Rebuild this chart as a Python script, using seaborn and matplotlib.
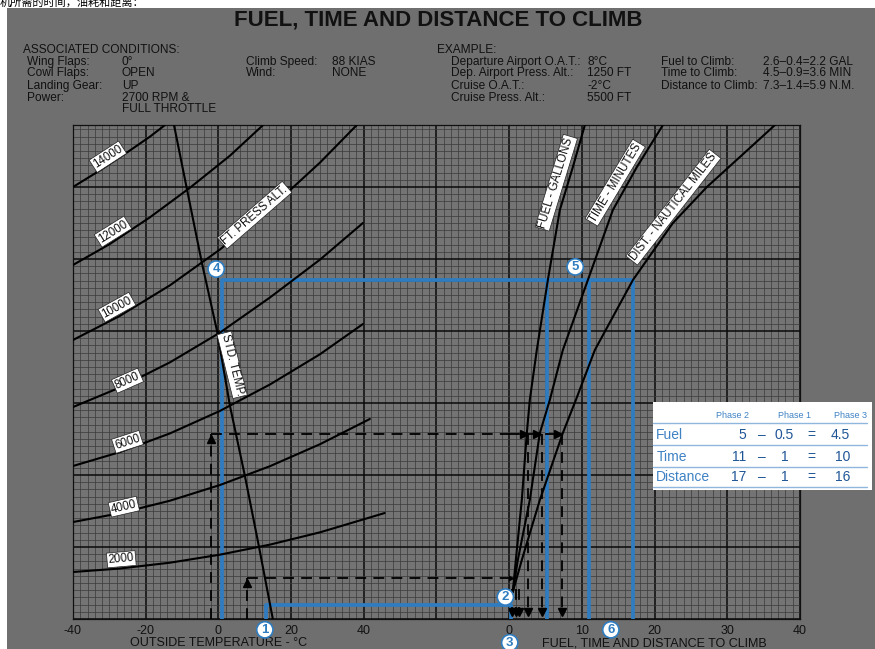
import numpy as np
import pandas as pd
import matplotlib
matplotlib.use("Agg")
import matplotlib.pyplot as plt
from matplotlib.patches import Rectangle
import seaborn as sns

# ---------------- data ----------------
# Left panel: pressure-altitude curves. x = outside air temperature (deg C), y = chart height (grid units)
pa2000_t = [-40, -27.1, -13.3, 0.4, 14.2, 28.0, 45.8]
pa2000_h = [6.53, 7.01, 7.82, 8.93, 10.33, 12.04, 14.72]
pa4000_t = [-40, -27.1, -13.3, 0.4, 14.2, 28.0, 41.7]
pa4000_h = [13.47, 14.69, 16.43, 18.60, 21.22, 24.28, 27.78]
pa6000_t = [-40, -27.1, -13.3, 0.4, 14.2, 28.0, 39.8]
pa6000_h = [21.25, 23.18, 25.78, 28.89, 32.57, 36.78, 40.97]
pa8000_t = [-40, -27.1, -13.3, 0.4, 14.2, 28.0, 39.8]
pa8000_h = [29.44, 32.15, 35.65, 39.76, 44.65, 49.92, 55.0]
pa10000_t = [-40, -27.1, -13.3, 0.4, 14.2, 28.0, 38.1]
pa10000_h = [38.75, 42.1, 46.35, 51.3, 57.0, 63.4, 68.6]
pa12000_t = [-40, -29.8, -18.8, -7.8, 3.2, 12.3]
pa12000_h = [49.17, 52.1, 55.8, 59.9, 64.35, 68.6]
pa14000_t = [-40, -32.6, -25.7, -18.8, -14.7]
pa14000_h = [60.0, 62.3, 64.6, 67.0, 68.6]
std_temp_t = [-12.2, -8.6, -4.5, -0.4, 3.2, 7.3, 11.2, 15.0]
std_temp_h = [68.6, 59.6, 49.4, 40.1, 29.6, 19.9, 10.0, 0.0]
alt_names = ["2000", "4000", "6000", "8000", "10000", "12000", "14000"]

# Right panel: fuel (gal), time (min), distance (n.m.) vs chart height
fuel_v = [0.52, 0.94, 1.76, 2.45, 2.86, 3.82, 5.34, 6.99, 8.78, 10.43]
fuel_h = [3.75, 8.19, 16.53, 25.83, 30.42, 37.36, 47.08, 56.81, 62.78, 68.61]
time_v = [0.52, 1.21, 2.86, 4.24, 5.61, 7.40, 10.84, 14.28, 17.58, 21.16]
time_h = [3.75, 8.19, 16.53, 25.83, 30.42, 37.36, 47.08, 56.81, 62.78, 68.61]
dist_v = [0.52, 1.76, 4.24, 7.40, 9.19, 11.80, 17.03, 22.53, 27.2, 31.74, 36.56]
dist_h = [3.75, 8.19, 16.53, 25.83, 30.42, 37.36, 47.08, 55.0, 60.0, 64.17, 68.61]

left_ticks = [-40, -20, 0, 20, 40, 60, 80]
left_tick_labels = ["-40", "-20", "0", "20", "40", "", ""]
right_ticks = [0, 10, 20, 30, 40]
right_tick_labels = ["0", "10", "20", "30", "40"]

# Blue worked example (phases)
ph1_temp, ph1_h, ph1_v = 13, 1.95, 0.3
ph2_temp, ph2_h = 1, 47.1
ph2_vals = [5.2, 11, 17]
# Dashed black example
dep_temp, dep_h = 8, 5.65
dep_vals = [0.4, 0.9, 1.4]
cru_temp, cru_h = -2, 25.7
cru_vals = [2.6, 4.5, 7.3]

# Table
tbl_cols = ["Phase 2", "Phase 1", "Phase 3"]
tbl_rows = ["Fuel", "Time", "Distance"]
tbl_p2 = ["5", "11", "17"]
tbl_p1 = ["0.5", "1", "1"]
tbl_p3 = ["4.5", "10", "16"]

# ---------------- style ----------------
sns.set_style("white")
plt.rcParams["font.family"] = ["Liberation Sans", "DejaVu Sans"]
GRAY = "#6f6f6f"
BLUE = "#2f7dc0"
INK = "#111111"

W, H = 875, 649
def fx(px):
    return px / W
def fy(py):
    return 1 - py / H

fig = plt.figure(figsize=(W / 100, H / 100), dpi=100, facecolor="white")
fig.add_artist(Rectangle((fx(7), 0), 1 - fx(7), fy(8), transform=fig.transFigure,
                         facecolor=GRAY, edgecolor="none", zorder=-10))

ax_l = fig.add_axes([fx(73), fy(619), (509 - 73) / W, 494 / H])
ax_r = fig.add_axes([fx(509), fy(619), (800 - 509) / W, 494 / H])
YMAX = 494 / 7.2

for ax, xl, xmaj, xmin in [(ax_l, (-40, 80), 20, 2), (ax_r, (0, 40), 10, 1)]:
    ax.set_facecolor("#747474")
    ax.set_xlim(*xl)
    ax.set_ylim(0, YMAX)
    ax.set_xticks(np.arange(xl[0], xl[1] + 0.1, xmin), minor=True)
    ax.set_yticks(np.arange(0, YMAX, 1), minor=True)
    ax.set_yticks(np.arange(0, YMAX, 10))
    ax.grid(which="minor", color="#3a3a3a", lw=0.5)
    ax.grid(which="major", color="#0a0a0a", lw=1.1)
    ax.set_axisbelow(True)
    ax.tick_params(axis="both", which="both", length=0)
    ax.tick_params(axis="x", labelsize=9, pad=4, colors=INK)
    ax.tick_params(axis="y", labelleft=False)
    for s in ax.spines.values():
        s.set_color("#111111")
        s.set_linewidth(0.9)
ax_l.spines["right"].set_visible(False)
ax_r.spines["left"].set_visible(False)
ax_l.set_xticks(left_ticks)
ax_l.set_xticklabels(left_tick_labels)
ax_r.set_xticks(right_ticks)
ax_r.set_xticklabels(right_tick_labels)

# ---------------- curves ----------------
alt_t = [pa2000_t, pa4000_t, pa6000_t, pa8000_t, pa10000_t, pa12000_t, pa14000_t]
alt_h = [pa2000_h, pa4000_h, pa6000_h, pa8000_h, pa10000_h, pa12000_h, pa14000_h]
df_left = pd.concat(
    [pd.DataFrame({"temp": t, "height": h, "curve": n}) for t, h, n in zip(alt_t, alt_h, alt_names)]
    + [pd.DataFrame({"temp": std_temp_t, "height": std_temp_h, "curve": "std"})],
    ignore_index=True)
sns.lineplot(data=df_left, x="temp", y="height", units="curve", estimator=None, sort=False,
             color="black", linewidth=1.5, ax=ax_l, zorder=4)

df_right = pd.concat([
    pd.DataFrame({"value": fuel_v, "height": fuel_h, "curve": "fuel"}),
    pd.DataFrame({"value": time_v, "height": time_h, "curve": "time"}),
    pd.DataFrame({"value": dist_v, "height": dist_h, "curve": "dist"}),
], ignore_index=True)
sns.lineplot(data=df_right, x="value", y="height", units="curve", estimator=None, sort=False,
             color="black", linewidth=1.5, ax=ax_r, zorder=4)
for ax in (ax_l, ax_r):
    ax.set_xlabel("")
    ax.set_ylabel("")

# ---------------- blue worked example ----------------
bkw = dict(color=BLUE, lw=2.7, zorder=3, solid_capstyle="butt")
ax_l.plot([ph1_temp, ph1_temp, 80], [0, ph1_h, ph1_h], **bkw)
ax_r.plot([0, ph1_v, ph1_v], [ph1_h, ph1_h, 0], **bkw)
ax_l.plot([ph2_temp, ph2_temp, 80], [0, ph2_h, ph2_h], **bkw)
ax_r.plot([0, ph2_vals[-1]], [ph2_h, ph2_h], **bkw)
for v in ph2_vals:
    ax_r.plot([v, v], [ph2_h, 0], **bkw)

# ---------------- dashed black example ----------------
dkw = dict(color="black", lw=1.3, ls=(0, (6, 4)), zorder=5)
mkw = dict(color="black", ms=5.5, ls="none", zorder=6)
ax_l.plot([dep_temp, dep_temp], [0, dep_h], **dkw)
ax_l.plot([dep_temp], [dep_h - 0.7], marker="^", **mkw)
ax_l.plot([dep_temp, 80], [dep_h, dep_h], **dkw)
ax_r.plot([0, ph1_v], [dep_h, dep_h], **dkw)
ax_r.plot([0.05], [dep_h], marker=">", **mkw)
for v in dep_vals:
    ax_r.plot([v, v], [4.2, 0.9], **dkw)
    ax_r.plot([v], [1.0], marker="v", **mkw)

ax_l.plot([cru_temp, cru_temp], [0, cru_h], **dkw)
ax_l.plot([cru_temp], [cru_h - 0.7], marker="^", **mkw)
ax_l.plot([cru_temp, 80], [cru_h, cru_h], **dkw)
ax_r.plot([0, cru_vals[-1]], [cru_h, cru_h], **dkw)
for v in cru_vals:
    ax_r.plot([v - 0.6], [cru_h], marker=">", **mkw)
    ax_r.plot([v, v], [cru_h, 0.9], **dkw)
    ax_r.plot([v], [1.0], marker="v", **mkw)

# ---------------- curve labels ----------------
box = dict(boxstyle="square,pad=0.12", fc="white", ec="#222222", lw=0.5)
lab_fs = 8.3
alt_lab_pos = [(-26.7, 8.3, 5), (-26.0, 15.6, 13), (-25.0, 24.6, 18), (-25.0, 33.1, 24),
               (-27.9, 43.3, 29), (-29.0, 53.8, 32), (-30.4, 64.2, 33)]
for name, (t, h, r) in zip(alt_names, alt_lab_pos):
    ax_l.text(t, h, name, rotation=r, rotation_mode="anchor", ha="center", va="center",
              fontsize=lab_fs, color=INK, bbox=box, zorder=7)
ax_l.text(10.0, 56.1, "FT. PRESS ALT.", rotation=41, rotation_mode="anchor", ha="center",
          va="center", fontsize=lab_fs, color=INK, bbox=box, zorder=7)
ax_l.text(3.8, 35.3, "STD. TEMP.", rotation=-76, rotation_mode="anchor", ha="center",
          va="center", fontsize=lab_fs, color=INK, bbox=box, zorder=7)
ax_r.text(6.5, 60.6, "FUEL - GALLONS", rotation=73, rotation_mode="anchor", ha="center",
          va="center", fontsize=lab_fs, color=INK, bbox=box, zorder=7)
ax_r.text(14.6, 60.6, "TIME - MINUTES", rotation=59, rotation_mode="anchor", ha="center",
          va="center", fontsize=lab_fs, color=INK, bbox=box, zorder=7)
ax_r.text(22.6, 57.2, "DIST. - NAUTICAL MILES", rotation=52, rotation_mode="anchor", ha="center",
          va="center", fontsize=lab_fs, color=INK, bbox=box, zorder=7)

# ---------------- numbered circles ----------------
cbox = dict(boxstyle="circle,pad=0.16", fc="white", ec=BLUE, lw=1.2)
circles = [(ax_l, 12.8, -1.5, "1"), (ax_r, -0.5, 3.05, "2"), (ax_r, 0.1, -3.3, "3"),
           (ax_l, -0.6, 48.6, "4"), (ax_r, 9.1, 48.9, "5"), (ax_r, 14.0, -1.5, "6")]
for ax, x, y, s in circles:
    ax.text(x, y, s, ha="center", va="center", fontsize=9.5, fontweight="bold", color=BLUE,
            bbox=cbox, zorder=9, clip_on=False)

# ---------------- axis titles ----------------
ax_l.text(0, -24 / 7.2, "OUTSIDE TEMPERATURE - °C", ha="center", va="center", fontsize=9,
          color=INK, clip_on=False)
ax_r.text(20, -24 / 7.2, "FUEL, TIME AND DISTANCE TO CLIMB", ha="center", va="center",
          fontsize=9, color=INK, clip_on=False)

# ---------------- header texts ----------------
fig.text(0.0, fy(2), "机所需的时间，油耗和距离：", fontsize=8, color="black", va="center",
         family=["Noto Sans CJK SC", "DejaVu Sans"])
fig.text(fx(438), fy(20), "FUEL, TIME AND DISTANCE TO CLIMB", ha="center", va="center",
         fontsize=16, fontweight="bold", color=INK)

tkw = dict(fontsize=8.6, color=INK, va="center", ha="left")
rows_y = [50, 62, 73, 86, 98, 109]
fig.text(fx(23), fy(rows_y[0]), "ASSOCIATED CONDITIONS:", **tkw)
for lab, val, y in zip(["Wing Flaps:", "Cowl Flaps:", "Landing Gear:", "Power:", ""],
                       ["0°", "OPEN", "UP", "2700 RPM &", "FULL THROTTLE"], rows_y[1:]):
    fig.text(fx(27), fy(y), lab, **tkw)
    fig.text(fx(122), fy(y), val, **tkw)
for lab, val, y in zip(["Climb Speed:", "Wind:"], ["88 KIAS", "NONE"], rows_y[1:3]):
    fig.text(fx(246), fy(y), lab, **tkw)
    fig.text(fx(332), fy(y), val, **tkw)
fig.text(fx(437), fy(rows_y[0]), "EXAMPLE:", **tkw)
for lab, val, y in zip(["Departure Airport O.A.T.:", "Dep. Airport Press. Alt.:", "Cruise O.A.T.:",
                        "Cruise Press. Alt.:"], ["8°C", "1250 FT", "-2°C", "5500 FT"], rows_y[1:5]):
    fig.text(fx(451), fy(y), lab, **tkw)
    fig.text(fx(587), fy(y), val, **tkw)
for lab, val, y in zip(["Fuel to Climb:", "Time to Climb:", "Distance to Climb:"],
                       ["2.6–0.4=2.2 GAL", "4.5–0.9=3.6 MIN", "7.3–1.4=5.9 N.M."], rows_y[1:4]):
    fig.text(fx(661), fy(y), lab, **tkw)
    fig.text(fx(763), fy(y), val, **tkw)

# ---------------- phase table ----------------
ax_t = fig.add_axes([fx(653), fy(490), 219 / W, 88 / H])
ax_t.set_facecolor("white")
ax_t.set_xlim(0, 1)
ax_t.set_ylim(0, 1)
ax_t.set_xticks([])
ax_t.set_yticks([])
for s in ax_t.spines.values():
    s.set_visible(False)
TB = "#3f82c4"
TN = "#1f5596"
for col, x in zip(tbl_cols, [0.361, 0.648, 0.9]):
    ax_t.text(x, 0.852, col, ha="center", va="center", fontsize=6.5, color=TB)
for y in [0.761, 0.511, 0.261, 0.034]:
    ax_t.plot([0.0, 0.975], [y, y], color="#8fb6dc", lw=1.0)
tfs = 10
for i, y in enumerate([0.625, 0.375, 0.148]):
    ax_t.text(0.015, y, tbl_rows[i], ha="left", va="center", fontsize=tfs, color=TB)
    ax_t.text(0.425, y, tbl_p2[i], ha="right", va="center", fontsize=tfs, color=TN)
    ax_t.text(0.496, y, "–", ha="center", va="center", fontsize=tfs, color=TN)
    ax_t.text(0.60, y, tbl_p1[i], ha="center", va="center", fontsize=tfs, color=TN)
    ax_t.text(0.725, y, "=", ha="center", va="center", fontsize=tfs, color=TN)
    ax_t.text(0.90, y, tbl_p3[i], ha="right", va="center", fontsize=tfs, color=TN)

fig.savefig("out.png", dpi=100, facecolor=fig.get_facecolor())
